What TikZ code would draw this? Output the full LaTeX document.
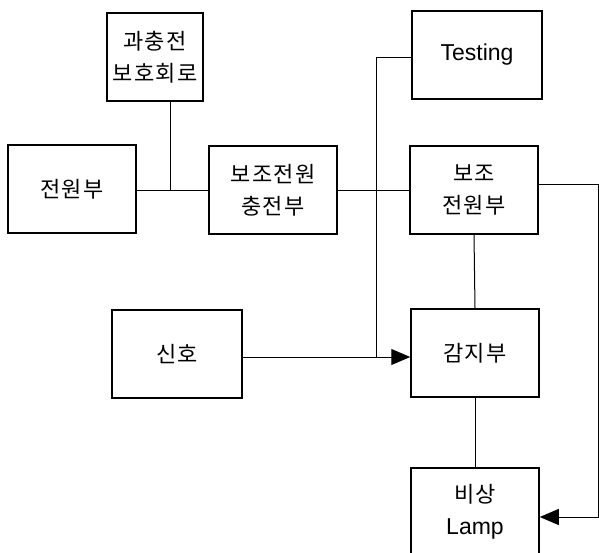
\documentclass[tikz,border=0pt]{standalone}
\usepackage{fontspec}
\setmainfont{Liberation Sans}
\newfontfamily\kr[LetterSpace=6]{Noto Sans CJK KR}
\usetikzlibrary{positioning, arrows.meta}

\begin{document}
\begin{tikzpicture}[x=1pt,y=-1pt,
    blk/.style={draw, line width=1.5pt, minimum width=128pt, minimum height=88pt,
        inner sep=0pt, align=center, font=\kr\fontsize{22}{32}\selectfont},
    wire/.style={line width=1pt},
    arr/.style={wire, -{Triangle[length=19pt,width=16pt]}}]
    \clip (0,0) rectangle (599,553);

    %블록
    \node[blk, minimum width=96pt] (prot) at (155,57) {과충전\\보호회로};
    \node[blk] (psu) at (72,189) {전원부};
    \node[blk] (chg) at (273,190) {보조전원\\충전부};
    \node[blk, minimum width=130pt, font=\fontsize{23}{32}\selectfont] (test) at (477,55) {Testing};
    \node[blk] (aux) at (474,190) {보조\\전원부};
    \node[blk, minimum width=130pt] (sig) at (177,354) {신호};
    \node[blk] (det) at (475,353) {감지부};
    \node[blk] (lamp) at (475,512) {비상\\{\normalfont\fontsize{23}{32}\selectfont Lamp}};

    %분기점
    \coordinate (j1) at (170,191);
    \coordinate (bt) at (376,58);
    \coordinate (bb) at (376,357);
    \coordinate (rt) at (598,185);
    \coordinate (rb) at (598,517);

    %선을 그린다
    \draw[wire] (psu.east |- j1) -- (chg.west |- j1);
    \draw[wire] (prot.south -| j1) -- (j1);
    \draw[wire] (chg.east |- j1) -- (aux.west |- j1);
    \draw[wire] (test.west |- bt) -- (bt) -- (bb);
    \draw[arr] (sig.east |- bb) -- (det.west |- bb);
    \draw[wire] (aux.south) -- (det.north);
    \draw[wire] (det.south) -- (lamp.north);
    \draw[arr] (aux.east |- rt) -- (rt) -- (rb) -- (lamp.east |- rb);
\end{tikzpicture}
\end{document}
